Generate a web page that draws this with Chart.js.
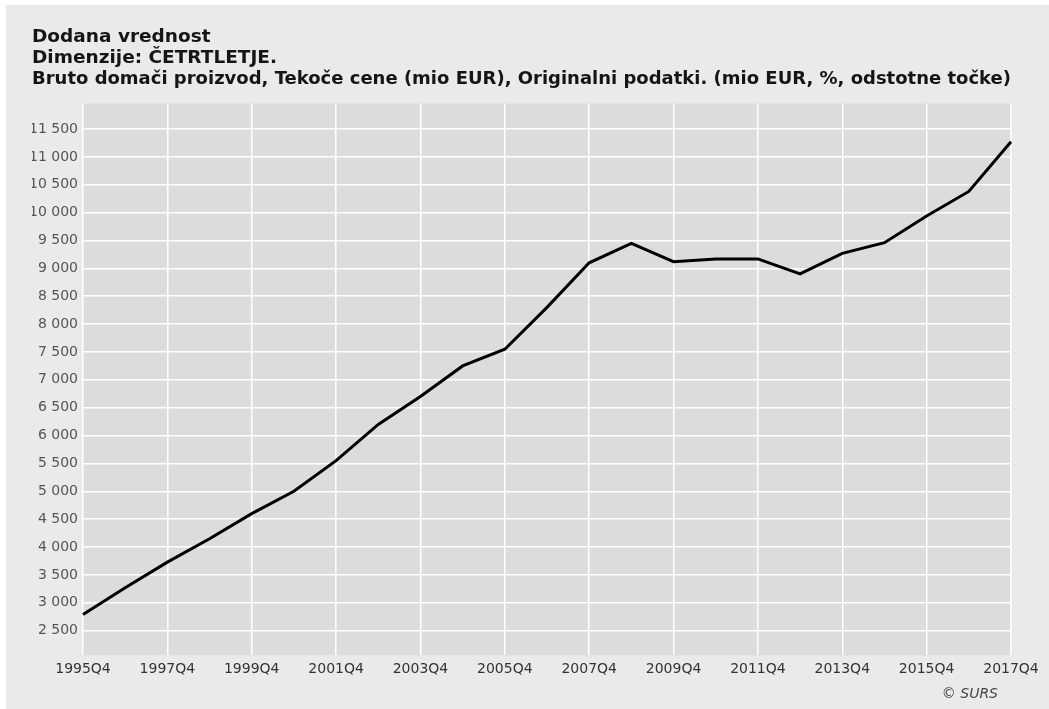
<!DOCTYPE html>
<html lang="sl">
<head>
  <meta charset="UTF-8">
  <title>Dodana vrednost</title>
  <script src="https://cdn.jsdelivr.net/npm/chart.js"></script>
  <style>
    html, body { margin: 0; padding: 0; background: #ffffff; }
    .panel {
      position: absolute;
      left: 6px; top: 5px;
      width: 1043px; height: 704px;
      background: #eaeaea;
    }
    .source {
      position: absolute;
      right: 51px; top: 680px;
      font-family: 'DejaVu Sans', sans-serif;
      font-style: italic;
      font-size: 14px;
      color: #444;
    }
  </style>
</head>
<body>
  <div class="panel">
    <canvas id="chart" width="1043" height="704"></canvas>
    <div class="source">© SURS</div>
  </div>
  <script>
    const titleLines = [
      "Dodana vrednost",
      "Dimenzije: ČETRTLETJE.",
      "Bruto domači proizvod, Tekoče cene (mio EUR), Originalni podatki. (mio EUR, %, odstotne točke)"
    ];

    const quarters = [
      "1995Q4", "1996Q4", "1997Q4", "1998Q4", "1999Q4", "2000Q4", "2001Q4", "2002Q4",
      "2003Q4", "2004Q4", "2005Q4", "2006Q4", "2007Q4", "2008Q4", "2009Q4", "2010Q4",
      "2011Q4", "2012Q4", "2013Q4", "2014Q4", "2015Q4", "2016Q4", "2017Q4"
    ];

    const gdpValues = [
      2790, 3270, 3730, 4150, 4600, 5000, 5550, 6200,
      6700, 7250, 7550, 8300, 9100, 9450, 9120, 9170,
      9170, 8900, 9270, 9460, 9940, 10380, 11270
    ];

    const xTickLabels = ["1995Q4", "1997Q4", "1999Q4", "2001Q4", "2003Q4", "2005Q4",
      "2007Q4", "2009Q4", "2011Q4", "2013Q4", "2015Q4", "2017Q4"];

    const yTicks = [2500, 3000, 3500, 4000, 4500, 5000, 5500, 6000, 6500, 7000,
      7500, 8000, 8500, 9000, 9500, 10000, 10500, 11000, 11500];

    const fmt = v => String(v).replace(/\B(?=(\d{3})+(?!\d))/g, " ");

    // gray plot background behind the grid
    const plotBg = {
      id: "plotBg",
      beforeDraw(chart) {
        const { ctx, chartArea: a } = chart;
        ctx.save();
        ctx.fillStyle = "#dcdcdc";
        ctx.fillRect(a.left, a.top, a.right - a.left, a.bottom - a.top);
        ctx.restore();
      }
    };

    new Chart(document.getElementById("chart"), {
      type: "line",
      data: {
        labels: quarters,
        datasets: [{
          data: gdpValues,
          borderColor: "#000000",
          borderWidth: 3,
          pointRadius: 0,
          tension: 0,
          fill: false
        }]
      },
      options: {
        responsive: false,
        animation: false,
        layout: { padding: { left: 26, right: 38, top: 0, bottom: 25 } },
        plugins: {
          legend: { display: false },
          tooltip: { enabled: false },
          title: {
            display: true,
            text: titleLines,
            align: "start",
            color: "#151515",
            font: { family: "'DejaVu Sans', sans-serif", size: 18.5, weight: "bold", lineHeight: 1.16 },
            padding: { top: 21, bottom: 13 }
          }
        },
        scales: {
          x: {
            offset: false,
            border: { display: false },
            grid: {
              drawTicks: false,
              lineWidth: 1.5,
              color: c => xTickLabels.includes(quarters[c.index]) ? "#ffffff" : "rgba(0,0,0,0)"
            },
            ticks: {
              autoSkip: false,
              maxRotation: 0,
              padding: 6,
              color: "#333333",
              font: { family: "'DejaVu Sans', sans-serif", size: 14 },
              callback: (v, i) => xTickLabels.includes(quarters[i]) ? quarters[i] : ""
            }
          },
          y: {
            min: 2060,
            max: 11960,
            border: { display: false },
            afterFit: axis => { axis.width = 51; },
            afterBuildTicks: axis => { axis.ticks = yTicks.map(v => ({ value: v })); },
            grid: { drawTicks: false, color: "#ffffff", lineWidth: 1.5 },
            ticks: {
              padding: 5,
              color: "#555555",
              font: { family: "'DejaVu Sans', sans-serif", size: 14 },
              callback: v => fmt(v)
            }
          }
        }
      },
      plugins: [plotBg]
    });
  </script>
</body>
</html>
